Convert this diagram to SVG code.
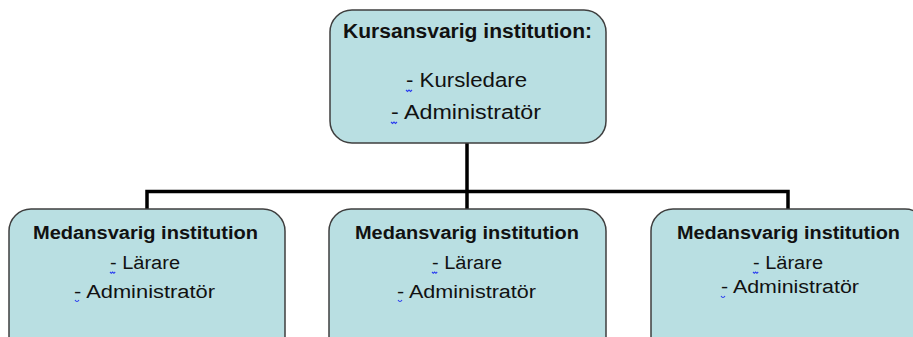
<svg xmlns="http://www.w3.org/2000/svg" width="913" height="337" viewBox="0 0 913 337">
<style>
.box{fill:#b9dfe2;stroke:#3f3f3f;stroke-width:1.5}
.t{font-family:"Liberation Sans",Arial,sans-serif;fill:#111;text-anchor:middle}
.h{font-weight:bold}
.conn{fill:none;stroke:#000;stroke-width:3.5}
.sq{fill:none;stroke:#2a3cf0;stroke-width:1.1}
</style>
<rect width="913" height="337" fill="#fff"/>
<g id="connectors">
<path class="conn" d="M467 143 V191.5 M147 209 V191.5 H788 V209 M467 191.5 V209"/>
</g>
<g id="top">
<rect class="box" x="330" y="10" width="276" height="133" rx="22"/>
<text class="t h" x="467.5" y="38" font-size="20" textLength="249" lengthAdjust="spacingAndGlyphs">Kursansvarig institution:</text>
<text class="t" x="466.5" y="87" font-size="20" textLength="121" lengthAdjust="spacingAndGlyphs">- Kursledare</text>
<text class="t" x="466" y="119" font-size="20" textLength="150" lengthAdjust="spacingAndGlyphs">- Administratör</text>
<path class="sq" d="M406 90 l1.5 1.5 l1.5 -1.5 l1.5 1.5 l1.5 -1.5"/>
<path class="sq" d="M391 122 l1.5 1.5 l1.5 -1.5 l1.5 1.5 l1.5 -1.5"/>
</g>
<g id="left">
<rect class="box" x="9" y="209" width="276" height="150" rx="22"/>
<text class="t h" x="145.5" y="239" font-size="18" textLength="225" lengthAdjust="spacingAndGlyphs">Medansvarig institution</text>
<text class="t" x="145" y="269" font-size="18" textLength="70" lengthAdjust="spacingAndGlyphs">- Lärare</text>
<text class="t" x="144.5" y="298" font-size="18" textLength="141" lengthAdjust="spacingAndGlyphs">- Administratör</text>
<path class="sq" d="M110 272 l1.3 1.3 l1.3 -1.3 l1.3 1.3 l1.3 -1.3"/>
<path class="sq" d="M75 300 q2 3 4 0"/>
</g>
<g id="middle">
<rect class="box" x="329" y="209" width="277" height="150" rx="22"/>
<text class="t h" x="467" y="239" font-size="18" textLength="224" lengthAdjust="spacingAndGlyphs">Medansvarig institution</text>
<text class="t" x="467" y="269" font-size="18" textLength="70" lengthAdjust="spacingAndGlyphs">- Lärare</text>
<text class="t" x="466.5" y="298" font-size="18" textLength="139" lengthAdjust="spacingAndGlyphs">- Administratör</text>
<path class="sq" d="M432 272 l1.3 1.3 l1.3 -1.3 l1.3 1.3 l1.3 -1.3"/>
<path class="sq" d="M398 300 q2 3 4 0"/>
</g>
<g id="right">
<rect class="box" x="651" y="209" width="276" height="150" rx="22"/>
<text class="t h" x="788.5" y="239" font-size="18" textLength="223" lengthAdjust="spacingAndGlyphs">Medansvarig institution</text>
<text class="t" x="788" y="269" font-size="18" textLength="70" lengthAdjust="spacingAndGlyphs">- Lärare</text>
<text class="t" x="790" y="293" font-size="18" textLength="138" lengthAdjust="spacingAndGlyphs">- Administratör</text>
<path class="sq" d="M753 272 l1.3 1.3 l1.3 -1.3 l1.3 1.3 l1.3 -1.3"/>
<path class="sq" d="M721 296 q2 3 4 0"/>
</g>
</svg>
